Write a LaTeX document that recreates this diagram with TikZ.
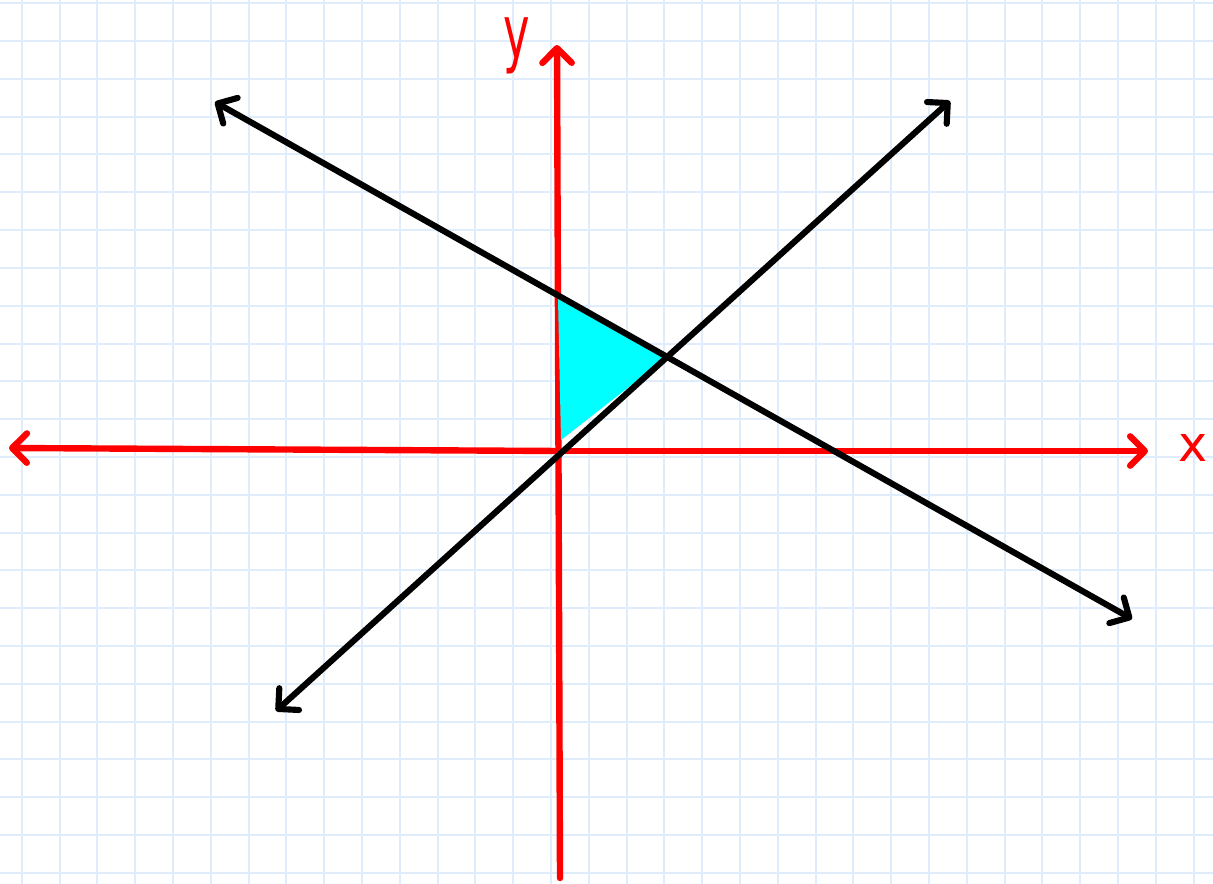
\documentclass[tikz,border=0pt]{standalone}
\usepackage{fontspec}
\setmainfont{DejaVu Sans}
\usetikzlibrary{arrows.meta, calc}

\definecolor{gridblue}{RGB}{222,236,252}
\definecolor{markerred}{RGB}{255,0,0}
\definecolor{regioncyan}{RGB}{0,255,255}

\begin{document}
\begin{tikzpicture}[
    x=0.75pt, y=-0.75pt,
    gridline/.style={
        draw=gridblue,
        line width=1.5pt
    },
    axisline/.style={
        draw=markerred,
        line width=4.8pt,
        line cap=round,
        -{Straight Barb[length=11pt, width=22pt, round]}
    },
    graphline/.style={
        draw=black,
        line width=4.6pt,
        line cap=round,
        -{Straight Barb[length=11pt, width=22pt, round]}
    },
    region/.style={
        fill=regioncyan
    },
    axislabel/.style={
        text=markerred,
        inner sep=0pt
    }
]

\useasboundingbox (0,0) rectangle (1213,884);
\fill[white] (0,0) rectangle (1213,884);

% Grid paper
\foreach \k in {0,...,31}
    \draw[gridline] (21.7+37.8*\k,0) -- (21.7+37.8*\k,884);
\foreach \k in {0,...,23}
    \draw[gridline] (0,3.3+37.8*\k) -- (1213,3.3+37.8*\k);

% End points
\coordinate (ybottom) at (560,878);
\coordinate (ytop) at (557,45);
\coordinate (xleft) at (9,448);
\coordinate (xright) at (1148,451);
\coordinate (fallstart) at (1132,619);
\coordinate (fallend) at (215,102);
\coordinate (risestart) at (276,711);
\coordinate (riseend) at (950,101);

% Shaded region
\coordinate (corner top) at (intersection of fallstart--fallend and ybottom--ytop);
\coordinate (corner right) at (intersection of fallstart--fallend and risestart--riseend);
\coordinate (corner bottom) at (561,440);

% Axes
\draw[axisline] (ybottom) -- (ytop);
\draw[axisline] (560,451) -- (xleft);
\draw[axisline] (560,451) -- (xright);

\fill[region] (corner top) -- (corner right) -- (corner bottom) -- cycle;

% Lines
\draw[graphline] ($(fallstart)!0.5!(fallend)$) -- (fallend);
\draw[graphline] ($(fallstart)!0.5!(fallend)$) -- (fallstart);
\draw[graphline] ($(risestart)!0.5!(riseend)$) -- (riseend);
\draw[graphline] ($(risestart)!0.5!(riseend)$) -- (risestart);

% Labels
\node[axislabel, font=\fontsize{56}{56}\selectfont, xscale=0.6] (ylabel) at (517,46) {y};
\node[axislabel, font=\fontsize{37}{37}\selectfont] (xlabel) at (1193,448) {x};

\end{tikzpicture}
\end{document}
